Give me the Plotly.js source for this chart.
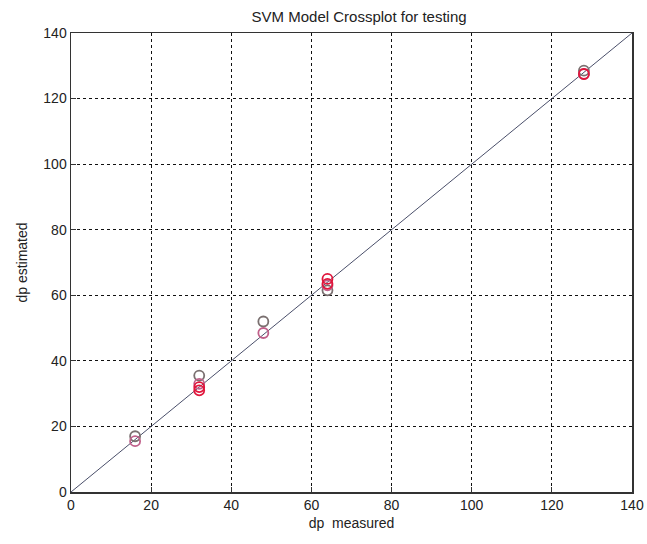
<!DOCTYPE html>
<html><head><meta charset="utf-8">
<script src="https://cdn.plot.ly/plotly-3.0.1.min.js"></script>
<style>body{margin:0;background:#fff}</style>
</head><body>
<div id="chart" style="width:647px;height:544px"></div>
<script>
const lineX = [0, 140];
const lineY = [0, 140];
const grayX = [16, 32, 48, 64, 128];
const grayY = [17, 35.5, 52, 61.5, 128.5];
const pinkX = [16, 32, 48, 64, 128];
const pinkY = [15.5, 33, 48.5, 63, 127.5];
const redX = [32, 32, 64, 64, 128];
const redY = [32, 31, 65, 63.5, 127.5];
const ticks = [0, 20, 40, 60, 80, 100, 120, 140];

const FONT = 'Liberation Sans, Arial, sans-serif';
const mk = (c) => ({symbol: 'circle-open', size: 10, color: c, line: {width: 1.8, color: c}});
const data = [
  {x: lineX, y: lineY, mode: 'lines', line: {color: '#4a4f6a', width: 1}, hoverinfo: 'skip'},
  {x: grayX, y: grayY, mode: 'markers', marker: mk('#7a7070')},
  {x: pinkX, y: pinkY, mode: 'markers', marker: mk('#c0608a')},
  {x: redX, y: redY, mode: 'markers', marker: mk('#e0163c')}
];
const ax = {
  range: [0, 140], tickvals: ticks, ticktext: ticks.map(String),
  showgrid: true, gridcolor: '#111', griddash: 'dot', gridwidth: 1.2,
  zeroline: false, showline: true, linecolor: '#333', linewidth: 1.5, mirror: true,
  ticks: 'inside', ticklen: 5, tickcolor: '#333',
  tickfont: {family: FONT, size: 14, color: '#222'}
};
const layout = {
  width: 647, height: 544, showlegend: false,
  paper_bgcolor: '#fff', plot_bgcolor: '#fff',
  margin: {l: 71, r: 15, t: 33, b: 52},
  title: {text: 'SVM Model Crossplot for testing', x: 0.555, xanchor: 'center', y: 0.978, yanchor: 'top',
    font: {family: FONT, size: 15, color: '#222'}},
  xaxis: Object.assign({}, ax, {title: {text: 'dp  measured', standoff: 6,
    font: {family: FONT, size: 14, color: '#222'}}}),
  yaxis: Object.assign({}, ax, {title: {text: 'dp estimated', standoff: 12,
    font: {family: FONT, size: 14, color: '#222'}}})
};
Plotly.newPlot('chart', data, layout, {displayModeBar: false, staticPlot: true});
</script>
</body></html>
